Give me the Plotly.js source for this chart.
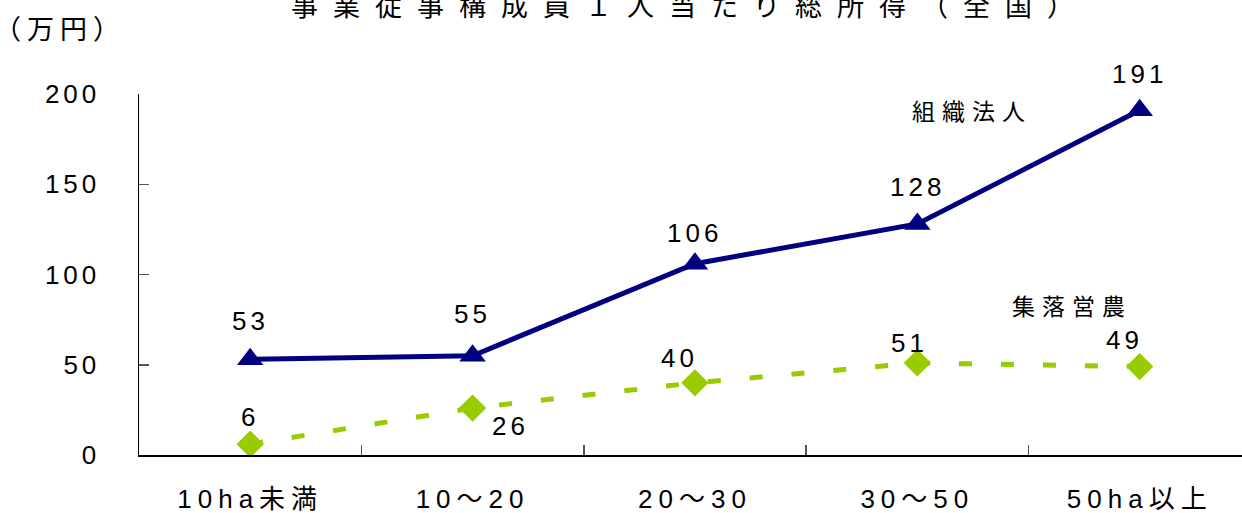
<!DOCTYPE html>
<html>
<head>
<meta charset="utf-8">
<script src="https://cdn.plot.ly/plotly-3.0.1.min.js"></script>
<style>
  body { margin: 0; background: #fff; }
  #chart { width: 1242px; height: 513px; }
  .main-svg text { letter-spacing: 4px; }
  .main-svg .xtick text { letter-spacing: 6px; }
  .main-svg .gtitle { letter-spacing: 15px !important; }
</style>
</head>
<body>
<div id="chart"></div>
<script>
// Data
const categories = ["10ha未満", "10～20", "20～30", "30～50", "50ha以上"];
const soshikiHojin = [53, 55, 106, 128, 191];   // 組織法人
const shurakuEino = [6, 26, 40, 51, 49];       // 集落営農
const seriesNames = ["組織法人", "集落営農"];
const yTicks = [0, 50, 100, 150, 200];

// Label offsets (pixels) for the value labels
const offsetsHojin = [[0, 38], [0, 42], [0, 31], [0, 37], [0, 36]];
const offsetsEino = [[0, 27], [38, -18], [-15, 25], [-8, 20], [-15, 27]];

const FONT = "'Liberation Sans', 'Noto Sans CJK JP', sans-serif";

// plot area in pixels (for converting label positions to paper coords)
const PL = 139, PR = 1242, PT = 94, PB = 455;
const px = v => (v - PL) / (PR - PL);
const py = v => (PB - v) / (PB - PT);

const traces = [
  {
    x: categories, y: soshikiHojin, name: seriesNames[0],
    type: "scatter", mode: "lines+markers",
    line: { color: "#000080", width: 5 },
    marker: { symbol: "triangle-up", size: 23, color: "#000080" },
    cliponaxis: false
  },
  {
    x: categories, y: shurakuEino, name: seriesNames[1],
    type: "scatter", mode: "lines+markers",
    line: { color: "#99CC00", width: 5, dash: "13px,29px" },
    marker: { symbol: "diamond", size: 21, color: "#99CC00" },
    cliponaxis: false
  }
];

const annotations = [];
soshikiHojin.forEach((v, i) => annotations.push({
  x: categories[i], y: v, text: String(v), showarrow: false,
  xshift: offsetsHojin[i][0], yshift: offsetsHojin[i][1],
  font: { family: FONT, size: 26, color: "#000" }
}));
shurakuEino.forEach((v, i) => annotations.push({
  x: categories[i], y: v, text: String(v), showarrow: false,
  xshift: offsetsEino[i][0], yshift: offsetsEino[i][1],
  font: { family: FONT, size: 26, color: "#000" }
}));
// series labels
annotations.push({
  x: px(924), y: py(112), xref: "paper", yref: "paper",
  xanchor: "left", yanchor: "middle",
  text: seriesNames[0], showarrow: false,
  font: { family: FONT, size: 23, color: "#000" }
});
annotations.push({
  x: px(1024), y: py(307), xref: "paper", yref: "paper",
  xanchor: "left", yanchor: "middle",
  text: seriesNames[1], showarrow: false,
  font: { family: FONT, size: 23, color: "#000" }
});
// unit label
annotations.push({
  x: px(4), y: py(30), xref: "paper", yref: "paper",
  xanchor: "left", yanchor: "middle",
  text: "（万円）", showarrow: false,
  font: { family: FONT, size: 27, color: "#000" }
});

const layout = {
  width: 1242, height: 513,
  paper_bgcolor: "#fff", plot_bgcolor: "#fff",
  margin: { l: 139, r: 0, t: 94, b: 58 },
  showlegend: false,
  font: { family: FONT, size: 26, color: "#000" },
  title: {
    text: "事業従事構成員１人当たり総所得（全国）",
    x: 690 / 1242, xanchor: "center", xref: "container",
    y: 1 - 7 / 513, yanchor: "middle", yref: "container",
    font: { family: FONT, size: 27, color: "#000" }
  },
  xaxis: {
    type: "category",
    range: [-0.5, 4.46],
    showline: true, linecolor: "#000", linewidth: 1.5,
    showgrid: false, zeroline: false,
    ticks: "inside", tickson: "boundaries", ticklen: 10,
    tickcolor: "#555", tickwidth: 1.5,
    tickfont: { family: FONT, size: 26, color: "#000" },
    ticklabelstandoff: 20,
    fixedrange: true
  },
  yaxis: {
    range: [0, 200],
    tickvals: yTicks,
    showline: true, linecolor: "#000", linewidth: 1.5,
    showgrid: false, zeroline: false,
    ticks: "inside", ticklen: 10, tickcolor: "#555", tickwidth: 1.5,
    tickfont: { family: FONT, size: 26, color: "#000" },
    ticklabelstandoff: 32,
    fixedrange: true
  },
  annotations: annotations
};

Plotly.newPlot("chart", traces, layout, { displayModeBar: false, staticPlot: true }).then(() => {
  document.querySelectorAll("#chart .annotation-text").forEach(t => {
    const s = t.textContent;
    if (s === seriesNames[0] || s === seriesNames[1]) t.style.letterSpacing = "7px";
    else if (s === "（万円）") t.style.letterSpacing = "6px";
  });
});
</script>
</body>
</html>
